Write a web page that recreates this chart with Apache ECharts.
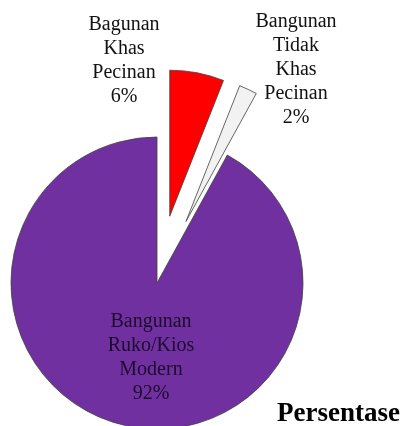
<!DOCTYPE html>
<html><head><meta charset="utf-8">
<script src="https://cdn.jsdelivr.net/npm/echarts@6/dist/echarts.min.js"></script>
<style>html,body{margin:0;padding:0;background:#fff}#c{width:404px;height:426px}</style>
</head><body><div id="c"></div>
<script>
var categories = ['Bagunan\nKhas\nPecinan', 'Bangunan\nTidak\nKhas\nPecinan', 'Bangunan\nRuko/Kios\nModern'];
var values = [6, 2, 92];
var colors = ['#FF0000', '#F2F2F2', '#7030A0'];
var exploded = [true, true, false];
var chartTitle = 'Persentase';

var labelPos = [
  {x: 124, y: 61},
  {x: 296, y: 70},
  {x: 151, y: 358}
];
var labelColors = ['#111', '#111', '#1c0a2c'];

var total = values.reduce(function (a, b) { return a + b; }, 0);

var chart = echarts.init(document.getElementById('c'));
chart.setOption({
  animation: false,
  title: {
    text: chartTitle, right: -1, top: 396,
    textStyle: {fontFamily: 'Liberation Serif', fontWeight: 'bold', fontSize: 27, color: '#000'}
  },
  graphic: categories.map(function (c, i) {
    return {
      type: 'text', x: labelPos[i].x, y: labelPos[i].y, z: 100,
      style: {
        text: c + '\n' + Math.round(values[i] / total * 100) + '%',
        fontFamily: 'Liberation Serif', fontSize: 20, lineHeight: 24,
        fill: labelColors[i], align: 'center', verticalAlign: 'middle'
      }
    };
  }),
  series: [{
    type: 'pie',
    center: [157, 283],
    radius: 146,
    startAngle: 90,
    clockwise: true,
    selectedMode: 'multiple',
    selectedOffset: 68,
    emphasis: {disabled: true},
    itemStyle: {borderColor: '#404040', borderWidth: 0.8},
    labelLine: {show: false},
    label: {show: false},
    data: categories.map(function (c, i) {
      return {
        name: c, value: values[i], selected: exploded[i],
        itemStyle: {color: colors[i]}
      };
    })
  }]
});
</script></body></html>
